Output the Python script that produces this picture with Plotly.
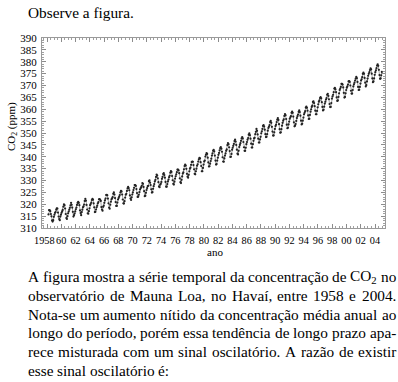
import plotly.graph_objects as go

# Monthly CO2 concentration (ppm), Mauna Loa; first value is March 1958
co2_1958_1964 = [
    315.7, 317.5, 317.5, 317.1, 315.9, 314.9, 313.2, 312.7, 313.3, 314.7,
    315.6, 316.4, 316.7, 317.7, 318.3, 318.2, 316.5, 314.8, 313.8, 313.3, 314.8, 315.6,
    316.4, 317.0, 317.6, 319.0, 320.0, 319.6, 318.2, 315.9, 314.2, 313.8, 315.0, 316.2,
    316.9, 317.7, 318.5, 319.5, 320.6, 319.8, 318.6, 316.8, 314.8, 315.4, 316.1, 317.0,
    317.9, 318.6, 319.7, 320.6, 321.0, 320.6, 319.6, 317.4, 316.3, 315.4, 316.7, 317.7,
    318.7, 319.1, 319.9, 321.4, 322.3, 321.5, 319.7, 317.8, 316.2, 316.0, 317.1, 318.3,
    319.6, 320.1, 320.7, 321.8, 322.3, 321.9, 320.4, 318.7, 316.7, 316.8, 317.8, 318.7,
]
co2_1965_1974 = [
    319.4, 320.4, 320.9, 322.1, 322.2, 321.9, 321.4, 318.8, 317.8, 317.3, 318.9, 319.4,
    320.6, 321.6, 322.4, 323.9, 324.0, 323.8, 322.4, 320.4, 318.6, 318.1, 319.8, 321.1,
    322.1, 322.5, 323.0, 324.4, 325.0, 324.1, 322.6, 320.9, 319.3, 319.3, 320.7, 322.0,
    322.6, 323.2, 323.9, 325.0, 325.6, 325.4, 324.1, 322.0, 320.4, 320.3, 321.3, 322.8,
    324.0, 324.4, 325.6, 326.7, 327.3, 326.8, 325.9, 323.7, 322.4, 321.8, 322.9, 324.1,
    325.0, 326.0, 326.9, 328.1, 328.1, 327.7, 326.4, 324.7, 323.1, 323.2, 324.0, 325.1,
    326.2, 326.7, 327.2, 327.8, 328.9, 328.6, 327.3, 325.5, 323.4, 323.6, 324.8, 326.0,
    326.8, 327.6, 327.8, 329.7, 330.1, 329.1, 328.1, 326.3, 324.9, 325.1, 326.5, 327.6,
    328.5, 329.6, 330.3, 331.5, 332.5, 332.1, 330.9, 329.3, 327.5, 327.2, 328.2, 328.6,
    329.4, 330.7, 331.5, 332.7, 333.1, 332.3, 331.2, 329.4, 327.4, 327.4, 328.5, 329.6,
]
co2_1975_1984 = [
    330.4, 331.4, 332.0, 333.3, 334.0, 333.6, 331.9, 330.1, 328.6, 328.3, 329.5, 330.8,
    331.8, 332.6, 333.5, 334.6, 334.6, 334.3, 333.1, 330.9, 329.3, 328.9, 330.3, 331.7,
    332.9, 333.4, 334.7, 336.1, 336.7, 336.3, 334.9, 332.8, 331.6, 331.2, 332.4, 333.9,
    335.0, 335.4, 336.6, 337.8, 338.0, 337.9, 336.5, 334.7, 332.8, 332.6, 333.9, 335.0,
    336.2, 336.8, 338.0, 338.9, 339.5, 339.3, 337.7, 336.1, 333.9, 333.9, 335.3, 336.7,
    338.0, 338.4, 340.1, 340.8, 341.5, 341.2, 339.6, 337.6, 335.9, 336.0, 337.1, 338.2,
    339.2, 340.5, 341.4, 342.5, 342.9, 342.3, 340.5, 338.4, 336.7, 336.9, 338.4, 339.6,
    340.8, 341.6, 342.7, 343.6, 344.1, 343.4, 342.1, 339.8, 338.0, 337.9, 339.3, 340.5,
    341.4, 342.5, 343.1, 344.9, 345.8, 345.3, 344.0, 342.4, 339.9, 340.0, 341.2, 343.0,
    343.8, 344.6, 345.4, 346.6, 347.2, 346.4, 345.0, 343.0, 341.3, 341.0, 342.5, 344.1,
]
co2_1985_1994 = [
    345.0, 345.7, 346.7, 347.7, 348.3, 347.7, 346.2, 344.0, 342.5, 342.5, 343.8, 345.3,
    346.2, 347.2, 347.9, 349.3, 349.9, 349.1, 347.6, 345.5, 343.9, 343.9, 345.3, 346.7,
    347.7, 348.0, 349.5, 350.5, 351.7, 350.9, 349.4, 347.6, 346.0, 346.0, 347.3, 348.4,
    349.9, 350.7, 351.7, 353.0, 353.3, 352.7, 351.4, 349.5, 348.3, 348.4, 349.5, 351.0,
    352.1, 352.6, 353.3, 354.6, 355.1, 354.3, 352.6, 350.6, 348.9, 349.0, 350.3, 351.7,
    352.9, 353.5, 354.6, 355.6, 356.3, 355.5, 353.7, 351.6, 350.1, 350.3, 351.6, 353.1,
    354.3, 355.2, 355.8, 357.2, 358.0, 357.5, 355.9, 353.5, 352.0, 352.2, 353.6, 354.8,
    356.0, 356.6, 357.1, 358.5, 359.0, 358.5, 356.9, 354.5, 352.8, 353.1, 353.8, 355.1,
    356.3, 357.1, 357.8, 358.9, 359.5, 358.8, 357.3, 355.2, 353.6, 353.9, 355.2, 356.5,
    357.9, 358.5, 359.2, 360.7, 361.1, 360.6, 359.4, 357.4, 355.9, 356.0, 357.6, 359.0,
]
co2_1995_2004 = [
    360.0, 361.0, 361.5, 363.1, 363.3, 362.6, 361.3, 359.4, 357.9, 357.9, 359.3, 360.8,
    362.1, 363.2, 363.7, 364.7, 365.1, 364.6, 363.0, 361.0, 359.5, 359.8, 361.1, 362.4,
    363.2, 364.1, 364.7, 366.1, 366.5, 365.6, 364.2, 362.2, 360.9, 361.0, 362.6, 364.5,
    365.4, 366.1, 367.2, 368.7, 369.0, 368.4, 367.2, 365.0, 363.5, 363.7, 365.2, 366.7,
    368.1, 368.7, 369.4, 370.7, 370.7, 370.4, 369.2, 366.9, 364.9, 365.2, 366.7, 368.1,
    369.1, 369.6, 370.4, 371.7, 371.9, 371.5, 370.0, 367.8, 366.6, 366.6, 368.1, 369.6,
    370.5, 371.2, 372.1, 372.9, 373.6, 373.1, 371.5, 369.4, 368.1, 368.2, 369.4, 370.8,
    372.1, 372.6, 373.5, 374.9, 375.4, 374.9, 373.2, 371.2, 369.6, 370.2, 371.7, 372.9,
    374.1, 374.9, 375.6, 376.5, 377.2, 376.8, 375.0, 373.0, 371.4, 371.7, 373.0, 374.5,
    375.6, 376.4, 377.3, 378.4, 378.9, 378.3, 376.6, 374.4, 372.8, 373.0, 374.3, 375.7,
]
first_year = 1958
first_month = 3  # March

year_ticks = list(range(1958, 2005, 2))
year_tick_labels = ["1958"] + ["%02d" % (y % 100) for y in year_ticks[1:]]
ppm_ticks = list(range(310, 391, 5))

intro_text = "Observe a figura."
paragraph_lines = [
    "A figura mostra a série temporal da concentração de CO<sub>2</sub> no",
    "observatório de Mauna Loa, no Havaí, entre 1958 e 2004.",
    "Nota-se um aumento nítido da concentração média anual ao",
    "longo do período, porém essa tendência de longo prazo apa-",
    "rece misturada com um sinal oscilatório. A razão de existir",
    "esse sinal oscilatório é:",
]

# ---------------------------------------------------------------
values = co2_1958_1964 + co2_1965_1974 + co2_1975_1984 + co2_1985_1994 + co2_1995_2004
times = []
for i in range(len(values)):
    m = first_month - 1 + i
    times.append(first_year + m // 12 + ((m % 12) + 0.5) / 12)

W, H = 398, 382
L, R, T, B = 42, 385, 38, 228   # plot area in pixels
px_per_year = (375 - 47) / 46.0
x0 = 1958 - (47 - L) / px_per_year
x1 = 2004 + (R - 375) / px_per_year

def px(xp):
    return (xp - L) / (R - L)

def py(yp):
    return (B - yp) / (B - T)

SERIF = "'Liberation Serif', 'Times New Roman', Times, 'DejaVu Serif', serif"
XT_SIZE = 10.3

# the first (four-digit) label is drawn separately, a little left of its tick
shown_labels = [""] + year_tick_labels[1:]

fig = go.Figure()
fig.add_trace(go.Scatter(
    x=times, y=values, mode="lines+markers",
    line=dict(color="#7a7a7a", width=0.7),
    marker=dict(color="#222222", size=2.2, symbol="circle"),
    hoverinfo="skip", showlegend=False,
))

axis_common = dict(
    showline=True, mirror="ticks", linecolor="#9a9a9a", linewidth=1,
    ticks="inside", ticklen=4, tickcolor="#8c8c8c", tickwidth=1,
    showgrid=False, zeroline=False,
)
fig.update_xaxes(
    range=[x0, x1], tickmode="array", tickvals=year_ticks, ticktext=shown_labels,
    tickangle=0,
    tickfont=dict(family=SERIF, size=XT_SIZE, color="black"),
    minor=dict(ticks="inside", dtick=0.5, tick0=1958, ticklen=2, tickcolor="#a0a0a0", showgrid=False),
    ticklabelstandoff=3,
    **axis_common,
)
fig.update_yaxes(
    range=[310, 390], tickmode="array", tickvals=ppm_ticks,
    tickfont=dict(family=SERIF, size=11, color="black"),
    minor=dict(ticks="inside", dtick=1, tick0=310, ticklen=2, tickcolor="#a0a0a0", showgrid=False),
    ticklabelstandoff=2,
    **axis_common,
)

ann = []
ann.append(dict(text=year_tick_labels[0], x=year_ticks[0], xref="x", y=py(240.5), yref="paper",
                showarrow=False, xanchor="center", yanchor="middle", xshift=-3,
                borderpad=0, borderwidth=0,
                font=dict(family=SERIF, size=XT_SIZE, color="black")))
ann.append(dict(text="ano", x=px(215), y=py(252), xref="paper", yref="paper",
                showarrow=False, xanchor="center", yanchor="middle",
                font=dict(family=SERIF, size=11, color="black")))
ann.append(dict(text="CO<sub>2</sub> (ppm)", x=px(12), y=py(127), xref="paper", yref="paper",
                showarrow=False, xanchor="center", yanchor="middle", textangle=-90,
                font=dict(family=SERIF, size=11, color="black")))

# Times / Liberation Serif advance widths (per 1000 em)
MET = dict(zip("abcdefghijklmnopqrstuvwxyz",
               [444, 500, 444, 500, 444, 333, 500, 500, 278, 278, 500, 278, 778,
                500, 500, 500, 500, 333, 389, 278, 500, 500, 722, 500, 500, 444]))
MET.update(dict(zip("ABCDEFGHIJKLMNOPQRSTUVWXYZ",
               [722, 667, 667, 722, 611, 556, 722, 722, 333, 389, 722, 611, 889,
                722, 722, 556, 722, 667, 556, 611, 722, 722, 944, 722, 722, 611])))
for ch in "0123456789":
    MET[ch] = 500
MET.update({" ": 250, ".": 250, ",": 250, "-": 333, ":": 278, "(": 333, ")": 333})
ACC = {"á": "a", "à": "a", "â": "a", "ã": "a", "é": "e", "ê": "e", "í": "i",
       "ó": "o", "ô": "o", "õ": "o", "ú": "u", "ç": "c"}

FS = 15.3

def word_width(w, size):
    total = 0.0
    sub = False
    i = 0
    while i < len(w):
        if w.startswith("<sub>", i):
            sub = True; i += 5; continue
        if w.startswith("</sub>", i):
            sub = False; i += 6; continue
        ch = ACC.get(w[i], w[i])
        total += MET.get(ch, 500) * (0.7 if sub else 1.0)
        i += 1
    return total * size / 1000.0

text_font = dict(family=SERIF, size=FS, color="black")
ann.append(dict(text=intro_text, x=px(28), y=py(12.5), xref="paper", yref="paper",
                showarrow=False, xanchor="left", yanchor="middle", font=text_font,
                borderpad=0, borderwidth=0))

line_y = [276.5, 295.3, 314.1, 332.9, 351.7, 370.5]
left_px, right_px = 28, 396
for k, line in enumerate(paragraph_lines):
    words = line.split(" ")
    widths = [word_width(w, FS) for w in words]
    justify = k < len(paragraph_lines) - 1
    if justify and len(words) > 1:
        gap = (right_px - left_px - sum(widths)) / (len(words) - 1)
    else:
        gap = MET[" "] * FS / 1000.0
    xcur = left_px
    for w, wd in zip(words, widths):
        ann.append(dict(text=w, x=px(xcur), y=py(line_y[k]), xref="paper", yref="paper",
                        showarrow=False, xanchor="left", yanchor="middle", font=text_font,
                        borderpad=0, borderwidth=0))
        xcur += wd + gap

fig.update_layout(
    width=W, height=H,
    margin=dict(l=L, r=W - R, t=T, b=H - B, pad=0),
    paper_bgcolor="white", plot_bgcolor="white",
    annotations=ann,
)

fig.write_html("out.html", config={"displayModeBar": False},
               post_script="document.body.style.margin='0px';")
